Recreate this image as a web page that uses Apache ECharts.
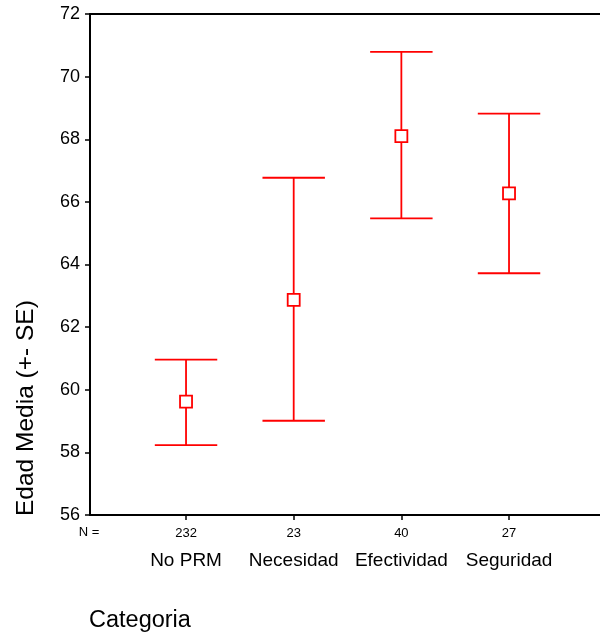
<!DOCTYPE html>
<html>
<head>
<meta charset="utf-8">
<script src="https://cdn.jsdelivr.net/npm/echarts@6/dist/echarts.min.js"></script>
<style>html,body{margin:0;padding:0;background:#fff}#c{width:600px;height:637px}</style>
</head>
<body>
<div id="c"></div>
<script>
var categories = ['No PRM', 'Necesidad', 'Efectividad', 'Seguridad'];
var counts = [232, 23, 40, 27];
var means = [59.62, 62.87, 68.10, 66.27];
var upper = [60.96, 66.77, 70.79, 68.82];
var lower = [58.23, 59.01, 65.47, 63.72];
var yTicks = [56, 58, 60, 62, 64, 66, 68, 70, 72];

var FONT = '"Liberation Sans", Arial, Helvetica, sans-serif';
var RED = '#ff0000';

var data = categories.map(function (c, i) {
  return [i + 1, means[i], upper[i], lower[i]];
});

var chart = echarts.init(document.getElementById('c'), null, {renderer: 'canvas'});
chart.setOption({
  animation: false,
  backgroundColor: '#fff',
  grid: {left: 90, top: 14, right: 0, bottom: 122, outerBoundsMode: 'none', containLabel: false},
  xAxis: [{
    type: 'value', min: 0.108, max: 4.845, position: 'bottom',
    splitLine: {show: false},
    axisLine: {show: true, lineStyle: {color: '#000', width: 2}},
    axisTick: {show: true, customValues: [1, 2, 3, 4], length: 5, lineStyle: {color: '#000', width: 1.5}},
    axisLabel: {
      show: true, customValues: [1, 2, 3, 4], margin: 10,
      formatter: function (v) {
        var i = Math.round(v) - 1;
        return '{n|' + counts[i] + '}\n{c|' + categories[i] + '}';
      },
      rich: {
        n: {fontFamily: FONT, fontSize: 13, color: '#000', lineHeight: 16},
        c: {fontFamily: FONT, fontSize: 19, color: '#000', lineHeight: 40}
      }
    }
  }, {
    type: 'value', min: 0.108, max: 4.845, position: 'top',
    splitLine: {show: false},
    axisLine: {show: true, onZero: false, lineStyle: {color: '#000', width: 2}},
    axisTick: {show: false},
    axisLabel: {show: false}
  }],
  yAxis: {
    type: 'value', min: yTicks[0], max: yTicks[yTicks.length - 1], interval: 2,
    splitLine: {show: false},
    axisLine: {show: true, lineStyle: {color: '#000', width: 2}},
    axisTick: {show: true, length: 5, lineStyle: {color: '#000', width: 1.5}},
    axisLabel: {fontFamily: FONT, fontSize: 18, color: '#000', margin: 10}
  },
  graphic: [
    {type: 'text', x: 89, y: 532.5, style: {text: 'N =', fontFamily: FONT, fontSize: 13, fill: '#000', textAlign: 'center', textVerticalAlign: 'middle'}},
    {type: 'text', x: 89, y: 621, style: {text: 'Categoria', fontFamily: FONT, fontSize: 23.5, fill: '#000', textAlign: 'left', textVerticalAlign: 'middle'}},
    {type: 'text', x: 26, y: 516, rotation: Math.PI / 2,
      style: {text: 'Edad Media (+- SE)', fontFamily: FONT, fontSize: 24.5, fill: '#000', textAlign: 'left', textVerticalAlign: 'middle'}}
  ],
  series: [{
    type: 'custom',
    xAxisIndex: 0,
    data: data,
    encode: {x: 0, y: [1, 2, 3]},
    renderItem: function (params, api) {
      var x = api.value(0);
      var m = api.coord([x, api.value(1)]);
      var hi = api.coord([x, api.value(2)]);
      var lo = api.coord([x, api.value(3)]);
      var half = api.size([0.29, 0])[0];
      var s = 12;
      var ls = {stroke: RED, lineWidth: 1.8};
      return {
        type: 'group',
        children: [
          {type: 'line', shape: {x1: hi[0], y1: hi[1], x2: lo[0], y2: lo[1]}, style: ls},
          {type: 'line', shape: {x1: hi[0] - half, y1: hi[1], x2: hi[0] + half, y2: hi[1]}, style: ls},
          {type: 'line', shape: {x1: lo[0] - half, y1: lo[1], x2: lo[0] + half, y2: lo[1]}, style: ls},
          {type: 'rect', shape: {x: m[0] - s / 2, y: m[1] - s / 2, width: s, height: s}, style: {fill: '#fff', stroke: RED, lineWidth: 1.8}}
        ]
      };
    }
  }]
});
</script>
</body>
</html>
